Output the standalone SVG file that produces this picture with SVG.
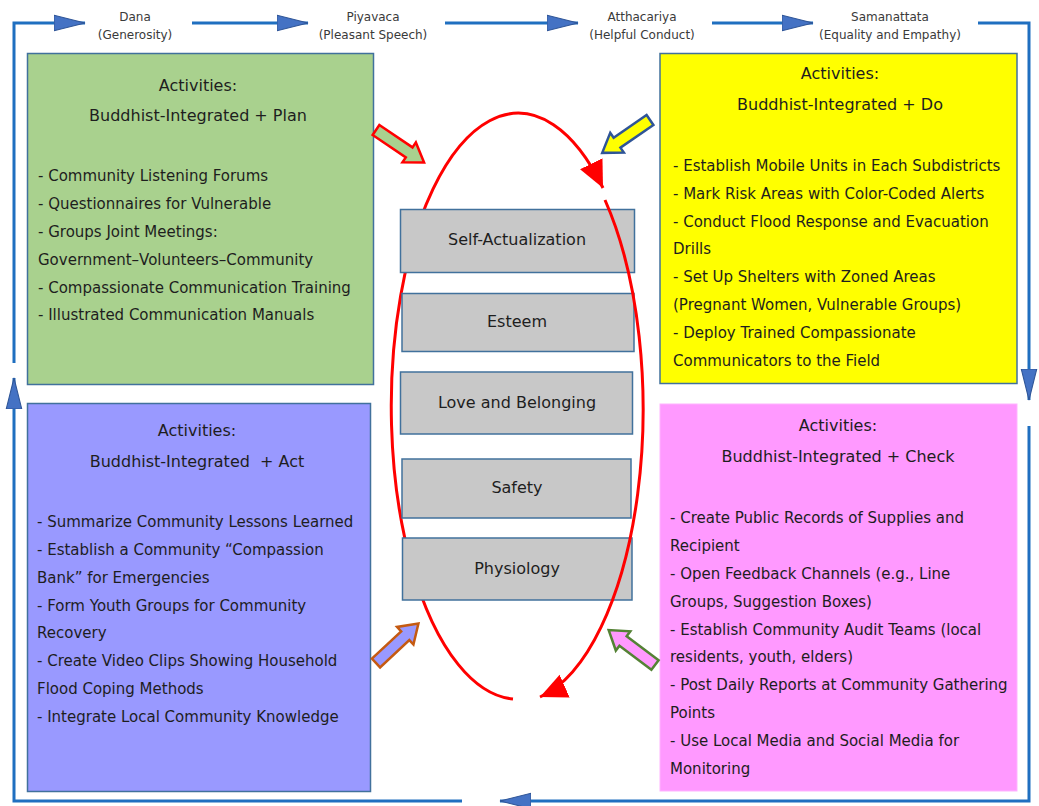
<svg xmlns="http://www.w3.org/2000/svg" width="1039" height="806" viewBox="0 0 1039 806">
<defs>
<style>
.t{font-family:"DejaVu Sans",Verdana,sans-serif;fill:#1e1e1e}
.lbl{font-size:12px;fill:#3a3a3a;text-anchor:middle}
.hd{font-size:16px;text-anchor:middle}
.li{font-size:15px}
.lv{font-size:16px;text-anchor:middle}
.flow{fill:none;stroke:#1f6fc0;stroke-width:3}
.cyc{fill:none;stroke:#ff0000;stroke-width:3}
.box{stroke:#41719c;stroke-width:1.5}
.lev{fill:#c8c8c8;stroke:#41719c;stroke-width:1.5}
</style>
<marker id="ba" markerUnits="userSpaceOnUse" markerWidth="32" markerHeight="18" viewBox="0 -8 31 16" refX="30" refY="0" orient="auto">
<path d="M0,-7.5 L30,0 L0,7.5 Z" fill="#4472c4" stroke="#2f5597" stroke-width="1"/>
</marker>
<marker id="ra" markerUnits="userSpaceOnUse" markerWidth="28" markerHeight="26" viewBox="0 -12 27 24" refX="26" refY="0" orient="auto">
<path d="M0,-12 L26,0 L0,12 Z" fill="#ff0000"/>
</marker>
<path id="blk" d="M0,-6 L40,-6 L40,-12 L58,0 L40,12 L40,6 L0,6 Z"/>
</defs>
<rect width="1039" height="806" fill="#ffffff"/>

<g id="cycle-back">
<path class="cyc" d="M513,699 A127,293 0 1 1 603,188" marker-end="url(#ra)"/>
</g>

<g id="plan">
<rect class="box" x="27.5" y="53.5" width="346" height="331" fill="#a9d18e"/>
<text class="t hd" x="198" y="91">Activities:</text>
<text class="t hd" x="198" y="121">Buddhist-Integrated + Plan</text>
<text class="t li" x="38" y="181">- Community Listening Forums</text>
<text class="t li" x="38" y="208.5">- Questionnaires for Vulnerable</text>
<text class="t li" x="38" y="237">- Groups Joint Meetings:</text>
<text class="t li" x="38" y="265">Government–Volunteers–Community</text>
<text class="t li" x="38" y="292.5">- Compassionate Communication Training</text>
<text class="t li" x="38" y="320">- Illustrated Communication Manuals</text>
</g>

<g id="do">
<rect class="box" x="660" y="53.5" width="357" height="330" fill="#ffff00"/>
<text class="t hd" x="840" y="79">Activities:</text>
<text class="t hd" x="840" y="110">Buddhist-Integrated + Do</text>
<text class="t li" x="673" y="170.5">- Establish Mobile Units in Each Subdistricts</text>
<text class="t li" x="673" y="198.5">- Mark Risk Areas with Color-Coded Alerts</text>
<text class="t li" x="673" y="226.5">- Conduct Flood Response and Evacuation</text>
<text class="t li" x="673" y="254">Drills</text>
<text class="t li" x="673" y="281.5">- Set Up Shelters with Zoned Areas</text>
<text class="t li" x="673" y="309.5">(Pregnant Women, Vulnerable Groups)</text>
<text class="t li" x="673" y="337.5">- Deploy Trained Compassionate</text>
<text class="t li" x="673" y="365.5">Communicators to the Field</text>
</g>

<g id="act">
<rect class="box" x="27.5" y="403.5" width="343" height="388" fill="#9999ff"/>
<text class="t hd" x="197" y="436">Activities:</text>
<text class="t hd" x="197" y="467" style="white-space:pre">Buddhist-Integrated  + Act</text>
<text class="t li" x="37" y="526.5">- Summarize Community Lessons Learned</text>
<text class="t li" x="37" y="554.5">- Establish a Community “Compassion</text>
<text class="t li" x="37" y="582.5">Bank” for Emergencies</text>
<text class="t li" x="37" y="610.5">- Form Youth Groups for Community</text>
<text class="t li" x="37" y="638">Recovery</text>
<text class="t li" x="37" y="666">- Create Video Clips Showing Household</text>
<text class="t li" x="37" y="693.5">Flood Coping Methods</text>
<text class="t li" x="37" y="721.5">- Integrate Local Community Knowledge</text>
</g>

<g id="check">
<rect x="660" y="404" width="357" height="387" fill="#ff99ff" stroke="#ffb3ff" stroke-width="1"/>
<text class="t hd" x="838" y="431">Activities:</text>
<text class="t hd" x="838" y="462">Buddhist-Integrated + Check</text>
<text class="t li" x="670" y="522.5">- Create Public Records of Supplies and</text>
<text class="t li" x="670" y="550.5">Recipient</text>
<text class="t li" x="670" y="578.5">- Open Feedback Channels (e.g., Line</text>
<text class="t li" x="670" y="606.5">Groups, Suggestion Boxes)</text>
<text class="t li" x="670" y="634.5">- Establish Community Audit Teams (local</text>
<text class="t li" x="670" y="662">residents, youth, elders)</text>
<text class="t li" x="670" y="690">- Post Daily Reports at Community Gathering</text>
<text class="t li" x="670" y="718">Points</text>
<text class="t li" x="670" y="746">- Use Local Media and Social Media for</text>
<text class="t li" x="670" y="774">Monitoring</text>
</g>

<g id="self-actualization">
<rect class="lev" x="400.5" y="209.5" width="234" height="63"/>
<text class="t lv" x="517" y="245">Self-Actualization</text>
</g>
<g id="esteem">
<rect class="lev" x="402" y="293.5" width="232" height="58"/>
<text class="t lv" x="517" y="327">Esteem</text>
</g>
<g id="love-belonging">
<rect class="lev" x="400.5" y="372" width="232" height="62"/>
<text class="t lv" x="517" y="408">Love and Belonging</text>
</g>
<g id="safety">
<rect class="lev" x="402" y="459" width="229" height="59"/>
<text class="t lv" x="517" y="493">Safety</text>
</g>
<g id="physiology">
<rect class="lev" x="402.5" y="538" width="229.5" height="62" stroke="#5b8fd6"/>
<text class="t lv" x="517" y="574">Physiology</text>
</g>

<g id="principles">
<text class="t lbl" x="135" y="21">Dana</text>
<text class="t lbl" x="135" y="39">(Generosity)</text>
<text class="t lbl" x="373" y="21">Piyavaca</text>
<text class="t lbl" x="373" y="39">(Pleasant Speech)</text>
<text class="t lbl" x="642" y="21">Atthacariya</text>
<text class="t lbl" x="642" y="39">(Helpful Conduct)</text>
<text class="t lbl" x="890" y="21">Samanattata</text>
<text class="t lbl" x="890" y="39">(Equality and Empathy)</text>
</g>

<g id="connectors">
<path class="flow" d="M14,363 V23 H85" marker-end="url(#ba)"/>
<path class="flow" d="M192,23 H308" marker-end="url(#ba)"/>
<path class="flow" d="M445,23 H578" marker-end="url(#ba)"/>
<path class="flow" d="M712,23 H813" marker-end="url(#ba)"/>
<path class="flow" d="M978,23 H1029 V400" marker-end="url(#ba)"/>
<path class="flow" d="M1029,426 V801 H500" marker-end="url(#ba)"/>
<path class="flow" d="M462,801 H14 V378" marker-end="url(#ba)"/>
<path class="cyc" d="M605,200 A127,293 0 0 1 540,697" marker-end="url(#ra)"/>
<use href="#blk" transform="translate(376,130) rotate(34)" fill="#a9d18e" stroke="#ff0000" stroke-width="2.5"/>
<use href="#blk" transform="translate(650,120) rotate(145.5)" fill="#ffff00" stroke="#2f5597" stroke-width="2.5"/>
<use href="#blk" transform="translate(376,663) rotate(-43)" fill="#9999ff" stroke="#c55a11" stroke-width="2.5"/>
<use href="#blk" transform="translate(655,665) rotate(-143)" fill="#ff99ff" stroke="#548235" stroke-width="2.5"/>
</g>
</svg>
